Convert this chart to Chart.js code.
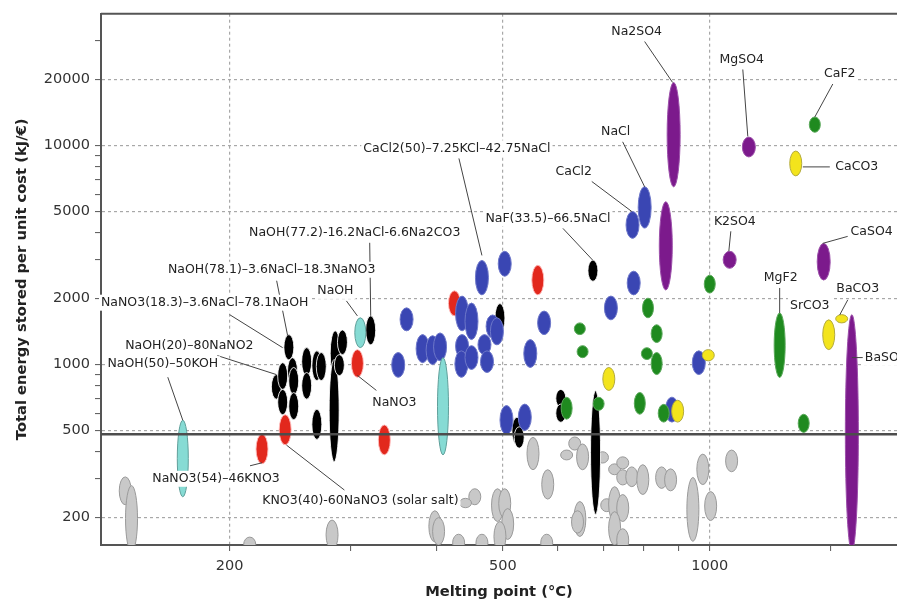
<!DOCTYPE html>
<html><head><meta charset="utf-8">
<script src="https://cdn.jsdelivr.net/npm/chart.js@4.4.1/dist/chart.umd.min.js"></script>
<style>html,body{margin:0;padding:0;background:#fff}</style>
</head><body>
<canvas id="c" width="897" height="606"></canvas>
<script>
// ---- axis ticks ----
const xTicksMajor = [200, 500, 1000];
const xTicksMinor = [300, 400, 600, 700, 800, 900, 1500];
const yTicksMajor = [200, 500, 1000, 2000, 5000, 10000, 20000];
const yTicksMinor = [300, 400, 600, 700, 800, 900, 3000, 4000, 6000, 7000, 8000, 9000, 30000];
const threshold = 480;

// ---- series: [melting point (°C), low energy/cost, high energy/cost] ----
const grayPts = [
  [141,229,307],[144,140,280],[214,140,163],[282,143,195],[398,155,215],[403,150,200],
  [431,140,168],[455,229,271],[441,222,245],[466,140,168],[491,192,271],[503,199,271],
  [508,159,220],[495,140,192],[553,331,465],[581,243,331],[579,140,168],[619,367,407],
  [636,407,467],[653,331,434],[647,164,237],[642,170,215],[698,355,400],[708,213,244],
  [727,314,352],[747,334,379],[747,282,331],[770,277,341],[799,255,349],[727,192,277],
  [747,192,255],[727,150,213],[747,140,178],[851,272,341],[877,265,334],[945,156,305],
  [977,283,390],[1003,194,263],[1076,324,407]
];
const blackPts = [
  [244,1050,1370],[234,695,900],[239,770,1020],[247,810,1075],[248,730,970],[239,590,770],
  [248,560,745],[259,890,1195],[259,695,920],[268,845,1155],[272,845,1135],[268,455,625],
  [285,890,1425],[284,360,1055],[292,1110,1440],[289,890,1110],[321,1230,1670],
  [495,1400,1900],[524,430,575],[528,415,520],[607,640,770],[607,545,660],[682,207,760],
  [676,2400,3000]
];
const redPts = [
  [307,875,1170],[241,430,590],[223,352,481],[336,387,530],[425,1670,2170],[562,2080,2840]
];
const bluePts = [
  [352,875,1135],[362,1425,1815],[382,1020,1370],[395,1000,1355],[405,1040,1395],
  [436,1425,2055],[450,1300,1910],[436,1075,1370],[435,875,1155],[450,950,1220],
  [470,1110,1370],[474,920,1155],[483,1325,1685],[490,1230,1635],[466,2080,2990],
  [503,2530,3290],[574,1370,1755],[548,970,1300],[506,480,650],[538,500,660],
  [775,2080,2670],[718,1600,2055],[964,900,1155],[881,546,710],[804,4200,6480],[772,3770,5000]
];
const cyanPts = [[171,249,557],[310,1195,1635],[409,387,1075]];
const greenPts = [
  [1000,2120,2560],[813,1635,2010],[837,1260,1520],[647,1370,1550],[653,1075,1220],
  [810,1054,1194],[837,900,1135],[791,593,746],[857,546,658],[619,563,709],[689,618,709],
  [1264,873,1720],[1370,490,593],[1422,11500,13500]
];
const yellowPts = [
  [1334,7270,9440],[713,762,970],[995,1040,1170],[898,546,687],[1490,1170,1600],[1556,1550,1690]
];
const purplePts = [
  [886,6480,19400],[863,2190,5540],[1140,8870,10930],[1069,2750,3290],[1465,2430,3575],[1610,140,1690]
];

// ---- labels: text, leader target [x, y] in data units ----
const labelTexts = [
  'Na2SO4','MgSO4','CaF2','CaCO3','NaCl','CaCl2','NaF(33.5)–66.5NaCl',
  'CaCl2(50)–7.25KCl–42.75NaCl','NaOH(77.2)-16.2NaCl-6.6Na2CO3',
  'NaOH(78.1)–3.6NaCl–18.3NaNO3','NaNO3(18.3)–3.6NaCl–78.1NaOH',
  'NaOH(20)–80NaNO2','NaOH(50)–50KOH','NaNO3(54)–46KNO3',
  'KNO3(40)-60NaNO3 (solar salt)','NaOH','NaNO3','K2SO4','CaSO4','MgF2','SrCO3','BaCO3','BaSO4'
];
const labelTargets = [
  [883,19400],[1136,11000],[1422,13500],[1366,7990],[804,6480],[770,5000],[676,2990],
  [466,3150],[321,1670],[243,1354],[239,1194],[234,900],[171,557],[223,356],
  [242,429],[307,1668],[307,892],[1066,3290],[1460,3575],[1264,1720],[1490,1600],[1546,1686],[1610,1076]
];
// layout offsets (px) : text centre dx,dy ; leader start sx,sy
const labelLayout = [
  [-36,-51,-28,-41],[-6,-77,-5,-67],[25,-43,18,-33],[54,0,27,0],[-29,-55,-22,-45],
  [-58,-40,-40,-30],[-45,-42,-30,-32],[-25,-107,-23,-97],[-16,-83,-1,-73],
  [-16,-66,-11,-55],[-78,-45,-53,-33],[-87,-29,-59,-19],[-20,-56,-15,-43],
  [-46,16,-12,3],[74,56,58,45],[-22,-25,-11,-15],[37,27,19,15],[6,-30,2,-20],
  [49,-12,25,-7],[1,-35,0,-25],[-19,-14,null,null],[18,-26,8,-15],[34,0,11,0]
];

const FONT = '"DejaVu Sans", sans-serif';
const toPts = arr => arr.map(([x, lo, hi]) => ({x, y: Math.sqrt(lo * hi), lo, hi}));
const series = [
  {pts: grayPts, fill: '#c8c8c8', stroke: '#9a9a9a', w: 12},
  {pts: blackPts, fill: '#000000', stroke: 'rgba(255,255,255,0.85)', w: 10},
  {pts: redPts, fill: '#e2281d', stroke: 'rgba(255,190,190,0.9)', w: 12},
  {pts: bluePts, fill: '#3a46b3', stroke: '#6d77c9', w: 13},
  {pts: cyanPts, fill: '#86dbd4', stroke: '#5f9f9a', w: 11},
  {pts: greenPts, fill: '#1f8a1f', stroke: '#5aa85a', w: 11},
  {pts: yellowPts, fill: '#f3e41c', stroke: '#b3aa3c', w: 12},
  {pts: purplePts, fill: '#7c1a8c', stroke: '#9c50aa', w: 13}
];

const ellipsePlugin = {
  id: 'ellipses',
  beforeDatasetsDraw(chart) {
    const {ctx, chartArea: a, scales: {x, y}} = chart;
    ctx.save();
    ctx.beginPath(); ctx.rect(a.left, a.top, a.right - a.left, a.bottom - a.top); ctx.clip();
    chart.data.datasets.forEach(ds => {
      if (!ds.ellipse) return;
      ds.data.forEach(p => {
        const cx = x.getPixelForValue(p.x);
        const t = y.getPixelForValue(p.hi), b = y.getPixelForValue(p.lo);
        const ry = Math.max((b - t) / 2, 3);
        ctx.beginPath();
        ctx.ellipse(cx, (t + b) / 2, ds.ellipse.w / 2, ry, 0, 0, Math.PI * 2);
        ctx.fillStyle = ds.ellipse.fill; ctx.fill();
        ctx.lineWidth = 1; ctx.strokeStyle = ds.ellipse.stroke; ctx.stroke();
      });
    });
    ctx.restore();
  },
  afterDatasetsDraw(chart) {
    const {ctx, scales: {x, y}} = chart;
    ctx.save();
    const pos = labelTargets.map(([vx, vy]) => [x.getPixelForValue(vx), y.getPixelForValue(vy)]);
    ctx.strokeStyle = '#444'; ctx.lineWidth = 1;
    labelLayout.forEach((l, i) => {
      if (l[2] === null) return;
      const [px, py] = pos[i];
      ctx.beginPath(); ctx.moveTo(px + l[2], py + l[3]); ctx.lineTo(px, py); ctx.stroke();
    });
    ctx.font = '12.5px ' + FONT;
    ctx.textAlign = 'center'; ctx.textBaseline = 'middle';
    labelLayout.forEach((l, i) => {
      const [px, py] = pos[i];
      const tx = px + l[0], ty = py + l[1];
      const w = ctx.measureText(labelTexts[i]).width;
      ctx.fillStyle = '#fff';
      ctx.fillRect(tx - w / 2 - 2, ty - 8, w + 4, 16);
      ctx.fillStyle = '#222';
      ctx.fillText(labelTexts[i], tx, ty);
    });
    ctx.restore();
  },
  afterDraw(chart) {
    const {ctx, chartArea: a} = chart;
    ctx.save();
    ctx.strokeStyle = '#555'; ctx.lineWidth = 2;
    ctx.beginPath(); ctx.moveTo(a.left, a.top); ctx.lineTo(a.right, a.top); ctx.stroke();
    ctx.restore();
  }
};

const datasets = series.map(s => ({
  data: toPts(s.pts), ellipse: {fill: s.fill, stroke: s.stroke, w: s.w},
  pointRadius: 0, pointHoverRadius: 0, showLine: false
}));
datasets.push({
  data: [{x: 130, y: threshold}, {x: 1873, y: threshold}],
  showLine: true, borderColor: '#4d4d4d', borderWidth: 2.5, pointRadius: 0
});

function tickSet(major, minor) {
  return [...major, ...minor].sort((a, b) => a - b).map(v => ({value: v}));
}

new Chart(document.getElementById('c'), {
  type: 'scatter',
  data: {datasets},
  plugins: [ellipsePlugin],
  options: {
    responsive: false, animation: false, events: [],
    devicePixelRatio: 1,
    layout: {padding: {top: 9, left: 0, right: 0, bottom: 0}},
    plugins: {legend: {display: false}, tooltip: {enabled: false}},
    scales: {
      x: {
        type: 'logarithmic', min: 130, max: 1873,
        afterBuildTicks: s => { s.ticks = tickSet(xTicksMajor, xTicksMinor); },
        afterFit: s => { s.height = 61; },
        ticks: {autoSkip: false, maxRotation: 0, padding: 7, color: '#333',
          font: {family: FONT, size: 14.5},
          callback: v => xTicksMajor.includes(v) ? String(v) : ''},
        grid: {
          color: c => (c.tick && xTicksMajor.includes(c.tick.value)) ? '#a8a8a8' : 'rgba(0,0,0,0)',
          lineWidth: 1.2, tickColor: '#555', tickLength: 6, tickWidth: 1
        },
        border: {display: true, color: '#555', width: 2, dash: [3, 3]},
        title: {display: true, text: 'Melting point (°C)', color: '#222',
          font: {family: FONT, size: 14.7, weight: 'bold'}, padding: {top: 2, bottom: 5}}
      },
      y: {
        type: 'logarithmic', min: 150, max: 40000,
        afterBuildTicks: s => { s.ticks = tickSet(yTicksMajor, yTicksMinor); },
        afterFit: s => { s.width = 101; },
        ticks: {autoSkip: false, padding: 5, color: '#333',
          font: {family: FONT, size: 14.5},
          callback: v => yTicksMajor.includes(v) ? String(v) : ''},
        grid: {
          color: c => (c.tick && yTicksMajor.includes(c.tick.value)) ? '#a8a8a8' : 'rgba(0,0,0,0)',
          lineWidth: 1.2, tickColor: '#555', tickLength: 6, tickWidth: 1
        },
        border: {display: true, color: '#555', width: 2, dash: [3, 3]},
        title: {display: true, text: 'Total energy stored per unit cost (kJ/€)', color: '#222',
          font: {family: FONT, size: 14.7, weight: 'bold'}, padding: {top: 13, bottom: 0}}
      }
    }
  }
});
</script>
</body></html>
